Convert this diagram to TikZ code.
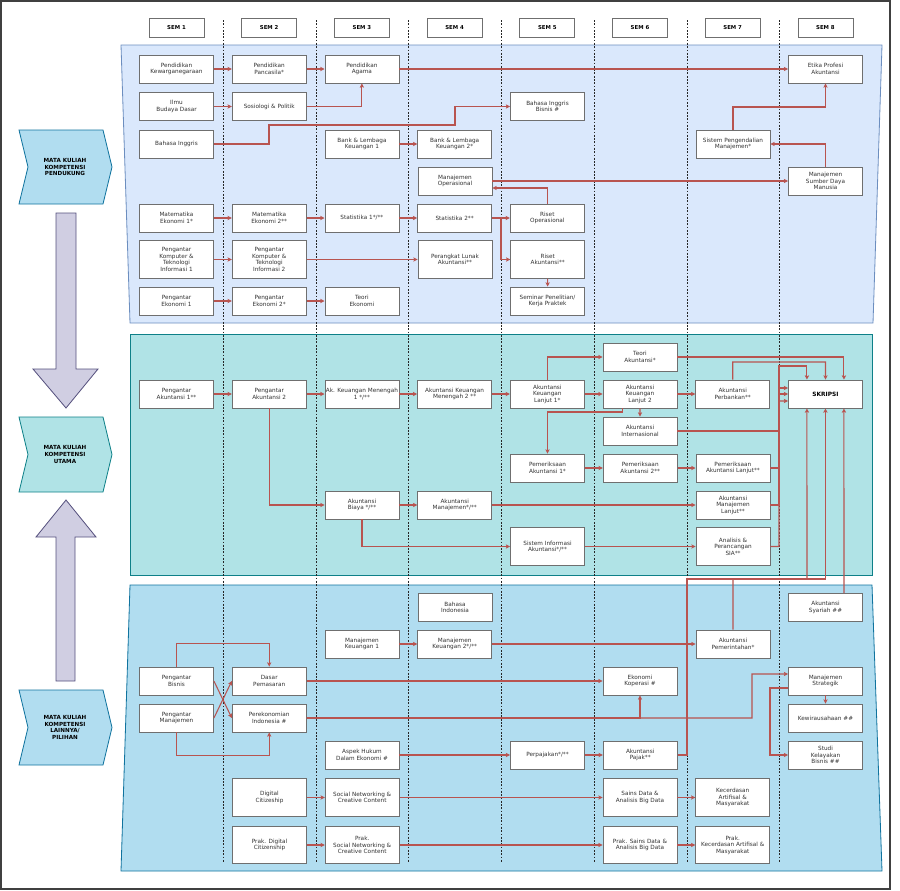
\documentclass[tikz,border=0pt]{standalone}
\usepackage{fontspec}
\setmainfont{DejaVu Sans}
\usetikzlibrary{positioning,arrows.meta}

\definecolor{arrowred}{HTML}{B85450}
\definecolor{boxline}{HTML}{6F6F6F}
\definecolor{textgray}{HTML}{333333}
\definecolor{pendfill}{HTML}{DAE8FC}
\definecolor{pendline}{HTML}{6C8EBF}
\definecolor{utamafill}{HTML}{B0E3E6}
\definecolor{utamaline}{HTML}{0E8088}
\definecolor{pilihfill}{HTML}{B1DDF0}
\definecolor{pilihline}{HTML}{10739E}
\definecolor{bigfill}{HTML}{D0CEE2}
\definecolor{bigline}{HTML}{56517E}

\newcommand{\coursefont}{\fontsize{4.9}{5.5}\selectfont}
\newcommand{\lanefont}{\fontsize{4.8}{5.7}\selectfont\bfseries}

\tikzset{
  course/.style={draw=boxline, fill=white, text=textgray, line width=0.7pt,
    minimum width=2.22cm, minimum height=0.84cm, inner sep=0.5pt,
    align=center, font=\coursefont},
  tallcourse/.style={course, minimum height=1.13cm},
  semhead/.style={draw=boxline, fill=white, line width=0.7pt,
    minimum width=1.65cm, minimum height=0.57cm,
    font=\fontsize{4.6}{5}\selectfont\bfseries},
  flow/.style={->, color=arrowred, line width=0.9pt},
  semline/.style={black!85, line width=0.8pt, dash pattern=on 1.5pt off 1.3pt},
  lanetext/.style={align=center, font=\lanefont},
  bigarrow/.style={fill=bigfill, draw=bigline, line width=0.7pt}
}

\begin{document}
\begin{tikzpicture}[x=0.03cm,y=-0.03cm,node distance=2.781cm,
  >={Stealth[length=3.6pt,width=3.6pt,inset=0.7pt]}]
\useasboundingbox (0,0) rectangle (900,890);
\draw[black!75, line width=0.9pt] (1,1) rectangle (890,889);

% lanes
\draw[fill=pendfill, draw=pendline, line width=0.7pt]
  (121,45) -- (882,45) -- (873,323) -- (130,323) -- cycle;
\draw[fill=utamafill, draw=utamaline, line width=0.7pt]
  (130,334) rectangle (872,575);
\draw[fill=pilihfill, draw=pilihline, line width=0.7pt]
  (130,585) -- (872,585) -- (882,871) -- (121,871) -- cycle;

% left labels
\draw[fill=pilihfill, draw=pilihline, line width=0.7pt]
  (19,130) -- (103,130) -- (112,167) -- (103,204) -- (19,204) -- (28,167) -- cycle;
\node[lanetext] (pendukung) at (65,167) {MATA KULIAH\\KOMPETENSI\\PENDUKUNG};
\draw[fill=utamafill, draw=utamaline, line width=0.7pt]
  (19,417) -- (103,417) -- (112,454.5) -- (103,492) -- (19,492) -- (28,454.5) -- cycle;
\node[lanetext] (utama) at (65,454.5) {MATA KULIAH\\KOMPETENSI\\UTAMA};
\draw[fill=pilihfill, draw=pilihline, line width=0.7pt]
  (19,690) -- (103,690) -- (112,727.5) -- (103,765) -- (19,765) -- (28,727.5) -- cycle;
\node[lanetext] (pilihan) at (65,727.5) {MATA KULIAH\\KOMPETENSI\\LAINNYA/\\PILIHAN};
\draw[bigarrow] (56,213) -- (76,213) -- (76,369) -- (98,369) -- (66,408)
  -- (33,369) -- (56,369) -- cycle;
\draw[bigarrow] (56,681) -- (75,681) -- (75,537) -- (96,537) -- (66,500)
  -- (36,537) -- (56,537) -- cycle;

% semesters
\foreach \x in {223,316,408,501,594,687,779}
  \draw[semline] (\x,20) -- (\x,862);
\foreach \i in {1,...,8}
  \node[semhead] (sem\i) at ({176.5+92.7*(\i-1)},27.5) {SEM \i};

% mata kuliah pendukung
\node (pkn) [course] at (176.5,69) {Pendidikan\\Kewarganegaraan};
\node (pps) [course, right of=pkn] {Pendidikan\\Pancasila*};
\node (pag) [course, right of=pps] {Pendidikan\\Agama};
\node (etk) [course] at (825.5,69) {Etika Profesi\\Akuntansi};
\node (ibd) [course] at (176.5,106.5) {Ilmu\\Budaya Dasar};
\node (sos) [course, right of=ibd] {Sosiologi \& Politik};
\node (bib) [course] at (547.5,106.5) {Bahasa Inggris\\Bisnis \#};
\node (bing) [course] at (176.5,144) {Bahasa Inggris};
\node (blk1) [course] at (362,144) {Bank \& Lembaga\\Keuangan 1};
\node (blk2) [course, right of=blk1] {Bank \& Lembaga\\Keuangan 2*};
\node (spm) [course] at (733,144) {Sistem Pengendalian\\Manajemen*};
\node (mop) [course] at (455,181) {Manajemen\\Operasional};
\node (msdm) [course] at (825.5,181) {Manajemen\\Sumber Daya\\Manusia};
\node (mat1) [course] at (176.5,218) {Matematika\\Ekonomi 1*};
\node (mat2) [course, right of=mat1] {Matematika\\Ekonomi 2**};
\node (st1) [course, right of=mat2] {Statistika 1*/**};
\node (st2) [course, right of=st1] {Statistika 2**};
\node (rop) [course, right of=st2] {Riset\\Operasional};
\node (pk1) [tallcourse] at (176.5,259.5) {Pengantar\\Komputer \&\\Teknologi\\Informasi 1};
\node (pk2) [tallcourse, right of=pk1] {Pengantar\\Komputer \&\\Teknologi\\Informasi 2};
\node (pla) [tallcourse] at (455,259.5) {Perangkat Lunak\\Akuntansi**};
\node (rak) [tallcourse, right of=pla] {Riset\\Akuntansi**};
\node (pe1) [course] at (176.5,301) {Pengantar\\Ekonomi 1};
\node (pe2) [course, right of=pe1] {Pengantar\\Ekonomi 2*};
\node (teo) [course, right of=pe2] {Teori\\Ekonomi};
\node (sem) [course] at (547.5,301) {Seminar Penelitian/\\Kerja Praktek};

% mata kuliah utama
\node (tak) [course] at (640,357) {Teori\\Akuntansi*};
\node (pa1) [course] at (176.5,394) {Pengantar\\Akuntansi 1**};
\node (pa2) [course, right of=pa1] {Pengantar\\Akuntansi 2};
\node (akm1) [course, right of=pa2] {Ak. Keuangan Menengah\\1 */**};
\node (akm2) [course, right of=akm1] {Akuntansi Keuangan\\Menengah 2 **};
\node (akl1) [course, right of=akm2] {Akuntansi\\Keuangan\\Lanjut 1*};
\node (akl2) [course, right of=akl1] {Akuntansi\\Keuangan\\Lanjut 2};
\node (apb) [course, right of=akl2] {Akuntansi\\Perbankan**};
\node (skr) [course, right of=apb, font=\fontsize{5}{6}\selectfont\bfseries, text=black] {SKRIPSI};
\node (aint) [course] at (640,431) {Akuntansi\\Internasional};
\node (pem1) [course] at (547.5,468) {Pemeriksaan\\Akuntansi 1*};
\node (pem2) [course, right of=pem1] {Pemeriksaan\\Akuntansi 2**};
\node (peml) [course, right of=pem2] {Pemeriksaan\\Akuntansi Lanjut**};
\node (abi) [course] at (362,505) {Akuntansi\\Biaya */**};
\node (aman) [course, right of=abi] {Akuntansi\\Manajemen*/**};
\node (amanl) [course] at (733,505) {Akuntansi\\Manajemen\\Lanjut**};
\node (sia) [tallcourse] at (547.5,546.5) {Sistem Informasi\\Akuntansi*/**};
\node (apsia) [tallcourse] at (733,546.5) {Analisis \&\\Perancangan\\SIA**};

% mata kuliah lainnya / pilihan
\node (bind) [course] at (455,607.5) {Bahasa\\Indonesia};
\node (syr) [course] at (825.5,607.5) {Akuntansi\\Syariah \#\#};
\node (mk1) [course] at (362,644) {Manajemen\\Keuangan 1};
\node (mk2) [course, right of=mk1] {Manajemen\\Keuangan 2*/**};
\node (apem) [course] at (733,644) {Akuntansi\\Pemerintahan*};
\node (pbis) [course] at (176.5,681) {Pengantar\\Bisnis};
\node (dpem) [course, right of=pbis] {Dasar\\Pemasaran};
\node (ekop) [course] at (640,681) {Ekonomi\\Koperasi \#};
\node (mstr) [course] at (825.5,681) {Manajemen\\Strategik};
\node (pman) [course] at (176.5,718) {Pengantar\\Manajemen};
\node (pind) [course, right of=pman] {Perekonomian\\Indonesia \#};
\node (kwu) [course] at (825.5,718) {Kewirausahaan \#\#};
\node (ahk) [course] at (362,755) {Aspek Hukum\\Dalam Ekonomi \#};
\node (ppj) [course] at (547.5,755) {Perpajakan*/**};
\node (apj) [course, right of=ppj] {Akuntansi\\Pajak**};
\node (skb) [course] at (825.5,755) {Studi\\Kelayakan\\Bisnis \#\#};
\node (dcit) [tallcourse] at (269.5,797.5) {Digital\\Citizeship};
\node (snc) [tallcourse, right of=dcit] {Social Networking \&\\Creative Content};
\node (sds) [tallcourse] at (640,797.5) {Sains Data \&\\Analisis Big Data};
\node (kas) [tallcourse, right of=sds] {Kecerdasan\\Artifisal \&\\Masyarakat};
\node (pdc) [tallcourse] at (269.5,845) {Prak. Digital\\Citizenship};
\node (psn) [tallcourse, right of=pdc] {Prak.\\Social Networking \&\\Creative Content};
\node (psd) [tallcourse] at (640,845) {Prak. Sains Data \&\\Analisis Big Data};
\node (pka) [tallcourse, right of=psd] {Prak.\\Kecerdasan Artifisal \&\\Masyarakat};

% prasyarat pendukung
\path[flow] (pkn) edge (pps);
\path[flow] (pps) edge (pag);
\path[flow] (pag) edge (etk);
\path[flow] (ibd) edge (sos);
\draw[flow] (sos) -| (pag);
\draw[flow] (bing) -| (269,125) -- (455,125) |- (bib);
\path[flow] (blk1) edge (blk2);
\path[flow] (mop) edge (msdm);
\draw[flow] (rop.north) |- ([yshift=-0.21cm]mop.east);
\path[flow] (mat1) edge (mat2);
\path[flow] (mat2) edge (st1);
\path[flow] (st1) edge (st2);
\path[flow] (st2) edge (rop);
\draw[flow] (st2) -- (501,218) |- (rak);
\path[flow] (pk1) edge (pk2);
\path[flow] (pk2) edge (pla);
\path[flow] (rak) edge (sem);
\path[flow] (pe1) edge (pe2);
\path[flow] (pe2) edge (teo);
\draw[flow] (spm) |- (825.5,107) -- (etk);
\draw[flow] (msdm) |- (spm);

% prasyarat utama
\path[flow] (pa1) edge (pa2);
\path[flow] (pa2) edge (akm1);
\path[flow] (akm1) edge (akm2);
\path[flow] (akm2) edge (akl1);
\path[flow] (akl1) edge (akl2);
\draw[flow] (akl1) |- (tak);
\draw[flow] ([xshift=-0.54cm]akl2.south) |- (547.5,412) -- (pem1);
\path[flow] (akl2) edge (aint);
\path[flow] (akl2) edge (apb);
\path[flow] (pem1) edge (pem2);
\path[flow] (pem2) edge (peml);
\draw[flow] (pa2) |- (abi);
\path[flow] (abi) edge (aman);
\path[flow] (aman) edge (amanl);
\draw[flow] (abi) |- (sia);
\path[flow] (sia) edge (apsia);
\draw[flow] (tak) -| ([xshift=0.555cm]skr.north);
\draw[flow] (apb) |- (825.5,362) -- (skr);
\draw[flow] (aint) -| (779,366) -| ([xshift=-0.555cm]skr.north);
\draw[flow] (peml) -| (779,388) -- ([yshift=0.18cm]skr.west);
\draw[flow] (amanl) -| (779,394) -- (skr);
\draw[flow] (apsia) -| (779,401) -- ([yshift=-0.21cm]skr.west);
\draw[flow] (apem) |- (807,579) -- ([xshift=-0.555cm]skr.south);
\draw[flow] (apj) -| (687,579) -| (skr);
\draw[flow] ([xshift=0.555cm]syr.north) -- ([xshift=0.555cm]skr.south);

% prasyarat pilihan
\path[flow] (mk1) edge (mk2);
\path[flow] (mk2) edge (apem);
\draw[flow] (pbis.north) -- ++(0,-23) -| (dpem);
\draw[flow] (pman.south) -- ++(0,23) -| (pind);
\draw[flow] (pbis.east) -- (pind.west);
\draw[flow] (pman.east) -- (dpem.west);
\path[flow] (dpem) edge (ekop);
\draw[flow] (pind) -| (ekop);
\draw[flow] (pind) -| (752,674) -- ([yshift=0.21cm]mstr.west);
\path[flow] (mstr) edge (kwu);
\draw[flow] ([yshift=-0.21cm]mstr.west) -| (770,755) -- (skb);
\path[flow] (ahk) edge (ppj);
\path[flow] (ppj) edge (apj);
\path[flow] (dcit) edge (snc);
\path[flow] (snc) edge (sds);
\path[flow] (sds) edge (kas);
\path[flow] (pdc) edge (psn);
\path[flow] (psn) edge (psd);
\path[flow] (psd) edge (pka);
\end{tikzpicture}
\end{document}
